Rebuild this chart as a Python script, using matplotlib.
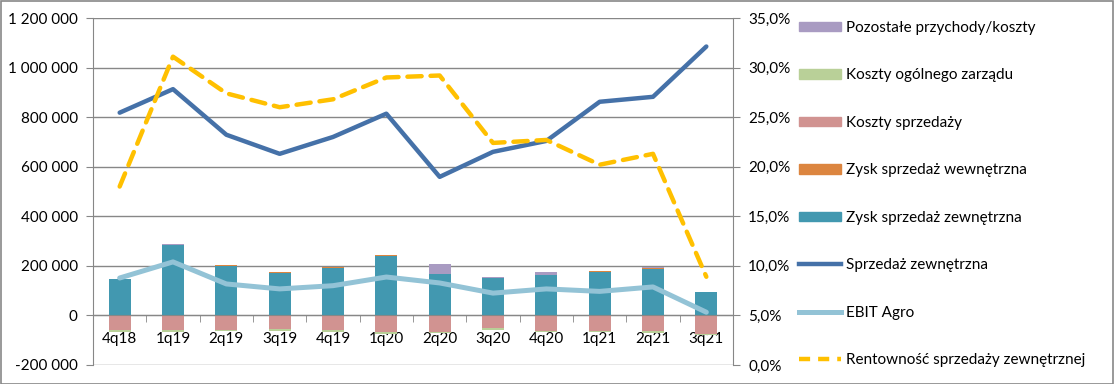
import numpy as np
import matplotlib.pyplot as plt
from matplotlib.patches import Patch, Rectangle
from matplotlib.lines import Line2D
from matplotlib.ticker import FuncFormatter, FixedLocator

plt.rcParams['font.family'] = ['Lato', 'DejaVu Sans']

# dane kwartalne
quarters = ['4q18', '1q19', '2q19', '3q19', '4q19', '1q20', '2q20', '3q20', '4q20', '1q21', '2q21', '3q21']
zysk_zewn = [147000, 285000, 200000, 170000, 191000, 240000, 168000, 151000, 162000, 176000, 186000, 95000]
zysk_wewn = [0, 0, 5000, 4000, 3000, 3000, 0, 0, 0, 3000, 6000, 0]
pozostale = [0, 4000, 0, 0, 0, 0, 40000, 3000, 15000, 0, 2000, 0]
koszty_sprz = [-59000, -59000, -59000, -53000, -59000, -65000, -65000, -49000, -61000, -61000, -61000, -75000]
koszty_zarz = [-6000, -6000, -5000, -10000, -6000, -8000, -4000, -8000, -5000, -6000, -8000, -2000]
sprzedaz_zewn = [818000, 913000, 729000, 652000, 720000, 814000, 559000, 660000, 704000, 862000, 882000, 1085000]
ebit_agro = [151000, 216000, 127000, 107000, 120000, 155000, 131000, 90000, 107000, 97000, 115000, 13000]
rentownosc = [0.180, 0.311, 0.274, 0.260, 0.268, 0.290, 0.292, 0.224, 0.227, 0.202, 0.213, 0.089]

c_teal = '#4298B0'
c_orange = '#DC853F'
c_purple = '#A99BC2'
c_pink = '#D19391'
c_green = '#B9D098'
c_dark = '#4571A8'
c_light = '#93C3D6'
c_yellow = '#FFC000'
c_grid = '#878787'
fs = 11

fig = plt.figure(figsize=(11.15, 3.84), dpi=100)
ax = fig.add_axes([93 / 1115, 1 - 365 / 384, 640 / 1115, 347 / 384])
ax2 = ax.twinx()

x = np.arange(len(quarters))
w = 0.41
zz = np.array(zysk_zewn)
zw = np.array(zysk_wewn)
ks = np.array(koszty_sprz)

ax.bar(x, zz, w, color=c_teal, zorder=2)
ax.bar(x, zw, w, bottom=zz, color=c_orange, zorder=2)
ax.bar(x, pozostale, w, bottom=zz + zw, color=c_purple, zorder=2)
ax.bar(x, ks, w, color=c_pink, zorder=2)
ax.bar(x, koszty_zarz, w, bottom=ks, color=c_green, zorder=2)

ax.plot(x, sprzedaz_zewn, color=c_dark, lw=3.2, zorder=3, solid_capstyle='round')
ax.plot(x, ebit_agro, color=c_light, lw=3.6, zorder=3, solid_capstyle='round')
ax2.plot(x, rentownosc, color=c_yellow, lw=3.2, dashes=(3.2, 2.0), dash_capstyle='round')

ax.set_xlim(-0.5, len(quarters) - 0.5)
ax.set_ylim(-200000, 1200000)
ax2.set_ylim(0, 0.35)
ax.set_yticks(np.arange(-200000, 1200001, 200000))
ax2.set_yticks(np.arange(0, 0.3501, 0.05))

ax.yaxis.set_major_formatter(FuncFormatter(lambda v, p: f'{int(v):,}'.replace(',', ' ')))
ax2.yaxis.set_major_formatter(FuncFormatter(lambda v, p: f'{v * 100:.1f}%'.replace('.', ',')))

ax.grid(axis='y', color=c_grid, lw=1, zorder=0)
ax.set_axisbelow(True)

for a in (ax, ax2):
    a.spines['top'].set_visible(False)
    a.spines['bottom'].set_visible(False)
    for s in a.spines.values():
        s.set_color(c_grid)
ax.spines['right'].set_visible(False)
ax2.spines['left'].set_visible(False)
ax.spines['bottom'].set_visible(True)
ax.spines['bottom'].set_position(('data', 0))

ax.set_xticks(x)
ax.set_xticklabels(quarters)
ax.xaxis.set_minor_locator(FixedLocator(np.arange(0.5, len(quarters) - 1, 1)))
ax.tick_params(axis='x', which='major', length=0, pad=12, labelsize=fs)
ax.tick_params(axis='x', which='minor', length=5, color=c_grid, direction='out')
ax.tick_params(axis='y', length=5, color=c_grid, labelsize=fs, pad=6)
ax2.tick_params(axis='y', length=5, color=c_grid, labelsize=fs, pad=6)

handles = [
    Patch(color=c_purple, label='Pozostałe przychody/koszty'),
    Patch(color=c_green, label='Koszty ogólnego zarządu'),
    Patch(color=c_pink, label='Koszty sprzedaży'),
    Patch(color=c_orange, label='Zysk sprzedaż wewnętrzna'),
    Patch(color=c_teal, label='Zysk sprzedaż zewnętrzna'),
    Line2D([], [], color=c_dark, lw=3.2, label='Sprzedaż zewnętrzna'),
    Line2D([], [], color=c_light, lw=3.6, label='EBIT Agro'),
    Line2D([], [], color=c_yellow, lw=3.2, dashes=(2.5, 1.8), label='Rentowność sprzedaży zewnętrznej'),
]
fig.legend(handles=handles, loc='upper left', bbox_to_anchor=(799 / 1115, 1 - 21 / 384),
           frameon=False, fontsize=fs, handlelength=2.75, handleheight=0.55,
           handletextpad=0.3, labelspacing=2.19, borderpad=0, borderaxespad=0)

fig.add_artist(Rectangle((0.0005, 0.001), 0.998, 0.997, transform=fig.transFigure,
                         fill=False, edgecolor=c_grid, lw=1.2))

fig.savefig('out.png', dpi=100)
